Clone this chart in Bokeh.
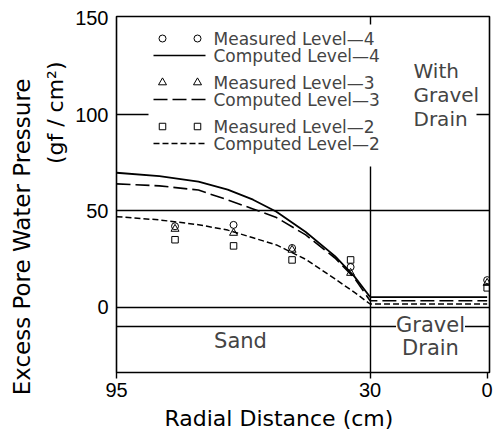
from bokeh.plotting import figure
from bokeh.models import Range1d, FixedTicker, Label, Title
from bokeh.embed import file_html
from bokeh.resources import INLINE

# ---------------- data ----------------
x_computed = [95, 84, 74, 66.5, 60, 54, 46.5, 39, 34, 30, 0]
computed_level4 = [69.8, 68.0, 65.2, 61.0, 55.8, 49.5, 39.0, 26.5, 15.8, 5.2, 5.2]
computed_level3 = [64.0, 63.0, 60.8, 55.7, 51.0, 46.5, 37.5, 25.5, 15.0, 3.3, 3.3]
computed_level2 = [47.0, 45.3, 42.8, 40.0, 36.0, 32.3, 24.8, 14.6, 7.6, 1.6, 1.6]

x_measured = [80, 65, 50, 35, 0]
measured_level4 = [42.0, 42.7, 30.7, 20.8, 14.0]
measured_level3 = [40.6, 38.5, 29.7, 17.7, 12.5]
measured_level2 = [35.0, 31.8, 24.5, 24.5, 10.0]

x_ticks = [95, 30, 0]
y_ticks = [0, 50, 100, 150]
boundary_x = [30]
reference_levels = [-10, 0, 50, 100]

legend_labels = ["Measured Level\u20144", "Computed Level\u20144",
                 "Measured Level\u20143", "Computed Level\u20143",
                 "Measured Level\u20142", "Computed Level\u20142"]

# ---------------- layout ----------------
W, H = 496, 440
FL, FR, FT, FB = 116, 489, 16, 372
X_START, X_END = 95, -0.6
Y_START, Y_END = -34, 151
TXT = "DejaVu Sans"
NUM = "Liberation Sans"


def dx(px):
    return X_START + (px - FL) * (X_END - X_START) / (FR - FL)


def dy(py):
    return Y_END - (py - FT) * (Y_END - Y_START) / (FB - FT)


def sx(px):
    return px - FL


def sy(py):
    return FB - py


p = figure(width=W, height=H, output_backend="svg", toolbar_location=None,
           x_range=Range1d(X_START, X_END), y_range=Range1d(Y_START, Y_END),
           min_border_left=FL, min_border_right=W - FR,
           min_border_top=FT, min_border_bottom=H - FB)
p.background_fill_color = "white"
p.border_fill_color = "white"
p.outline_line_color = "black"
p.outline_line_width = 1.6
p.outline_line_alpha = 1.0

# axes
p.xaxis.ticker = FixedTicker(ticks=x_ticks)
p.yaxis.ticker = FixedTicker(ticks=y_ticks)
for ax in (p.xaxis[0], p.yaxis[0]):
    ax.axis_line_color = None
    ax.minor_tick_line_color = None
    ax.major_tick_in = 0
    ax.major_label_text_font = NUM
    ax.major_label_text_font_size = "20px"
    ax.major_label_text_color = "black"
    ax.major_tick_line_color = "black"
    ax.major_tick_line_width = 1.4
p.xaxis.major_tick_out = 6
p.xaxis.major_label_standoff = 4
p.yaxis.major_tick_out = 0
p.yaxis.major_label_standoff = 8

# axis titles as side titles
title_style = dict(text_font=TXT, text_font_style="normal", text_color="black")
p.add_layout(Title(text="(gf / cm\u00b2)", align="right", offset=45, standoff=6,
                   vertical_align="top", text_font_size="22px", **title_style), "left")
p.add_layout(Title(text="Excess Pore Water Pressure", align="right", offset=62,
                   standoff=10, vertical_align="bottom", text_font_size="23px",
                   **title_style), "left")
p.add_layout(Title(text="Radial Distance (cm)", align="left", offset=48, standoff=12,
                   vertical_align="top", text_font_size="22px", **title_style), "below")

# reference lines
p.xgrid.ticker = FixedTicker(ticks=boundary_x)
p.ygrid.ticker = FixedTicker(ticks=reference_levels)
for g in (p.xgrid[0], p.ygrid[0]):
    g.grid_line_color = "black"
    g.grid_line_width = 1.4
    g.grid_line_alpha = 1.0

# legend background (white) hiding reference lines
LB = (148, 24, 476, 166)
p.quad(left=[dx(LB[0])], right=[dx(LB[2])], top=[dy(LB[1])], bottom=[dy(LB[3])],
       fill_color="white", line_color=None)

# computed curves
p.line(x_computed, computed_level4, line_color="black", line_width=1.8)
p.line(x_computed, computed_level3, line_color="black", line_width=1.6, line_dash="14 5")
p.line(x_computed, computed_level2, line_color="black", line_width=1.5, line_dash="6 3")

# measured points
mstyle = dict(fill_color=None, line_color="black", line_width=1.0)
p.scatter(x_measured, measured_level4, marker="circle", size=7, **mstyle)
p.scatter(x_measured, measured_level3, marker="triangle", size=8, **mstyle)
p.scatter(x_measured, measured_level2, marker="square", size=6.5, **mstyle)

# manual legend
rows_py = [38, 55, 82, 99, 126, 143]
markers = ["circle", None, "triangle", None, "square", None]
msizes = [7, None, 8, None, 6.5, None]
dashes = [None, "solid", None, "14 5", None, "6 3"]
for i, lab in enumerate(legend_labels):
    py = rows_py[i]
    if markers[i]:
        p.scatter([dx(162), dx(197)], [dy(py), dy(py)], marker=markers[i],
                  size=msizes[i], **mstyle)
    else:
        p.line([dx(153), dx(205)], [dy(py), dy(py)], line_color="black",
               line_width=1.6, line_dash=dashes[i])
    p.add_layout(Label(x=sx(213), y=sy(py), x_units="screen", y_units="screen",
                       text=lab, text_font=TXT, text_font_size="17px",
                       text_baseline="middle", text_align="left"))

# region annotations
p.add_layout(Label(x=sx(413), y=sy(58), x_units="screen", y_units="screen",
                   text="With\nGravel\nDrain", text_font=TXT, text_font_size="20px",
                   text_line_height=1.0, text_baseline="top", text_align="left"))
p.add_layout(Label(x=sx(240), y=sy(340), x_units="screen", y_units="screen",
                   text="Sand", text_font=TXT, text_font_size="21px",
                   text_baseline="middle", text_align="center"))
p.add_layout(Label(x=sx(430), y=sy(324), x_units="screen", y_units="screen",
                   text="Gravel", text_font=TXT, text_font_size="21px",
                   text_baseline="middle", text_align="center",
                   background_fill_color="white"))
p.add_layout(Label(x=sx(430), y=sy(347), x_units="screen", y_units="screen",
                   text="Drain", text_font=TXT, text_font_size="21px",
                   text_baseline="middle", text_align="center"))

open("out.html", "w").write(file_html(p, INLINE))
